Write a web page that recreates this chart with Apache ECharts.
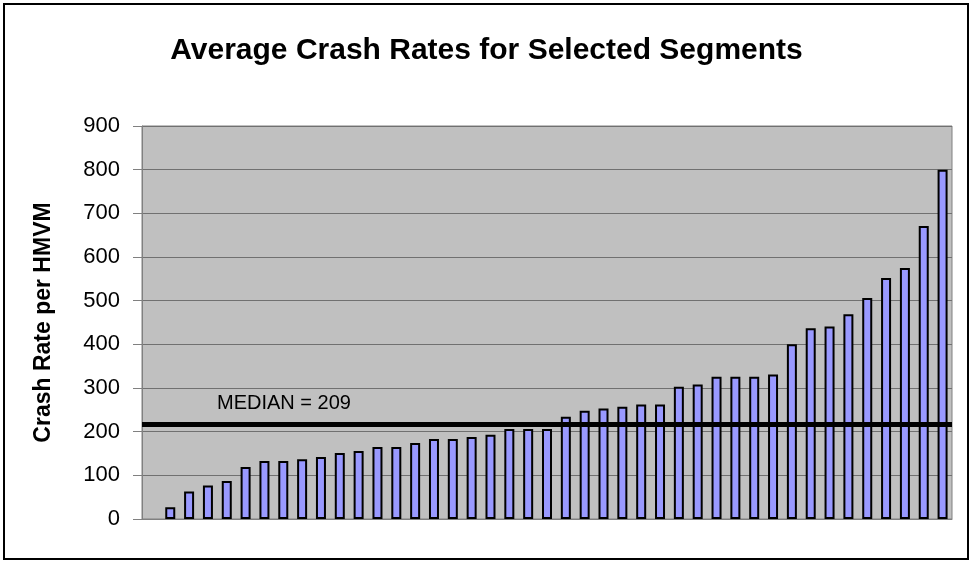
<!DOCTYPE html>
<html>
<head>
<meta charset="utf-8">
<title>Average Crash Rates for Selected Segments</title>
<script src="https://cdn.jsdelivr.net/npm/echarts@6/dist/echarts.min.js"></script>
<style>
  html, body { margin: 0; padding: 0; background: #fff; }
  #chart { width: 973px; height: 561px; }
</style>
</head>
<body>
<div id="chart"></div>
<script>
// first slot is empty in the original chart
var segments = ['']
for (var i = 1; i <= 42; i++) {
  segments.push('Segment ' + i)
}
var crashRates = ['-', 27, 63, 77, 87, 119, 133, 133, 137, 142, 151, 156, 165, 165, 174, 183, 183, 188, 193, 206, 206,
  206, 234, 248, 253, 257, 262, 262, 303, 308, 326, 326, 326, 331, 400, 437, 441, 469, 506, 552, 575, 671, 800]
var yTicks = [0, 100, 200, 300, 400, 500, 600, 700, 800, 900]
var medianLineAt = 217
var medianLabel = 209

var font = '"Liberation Sans", Arial, sans-serif'
var myChart = echarts.init(document.getElementById('chart'))

myChart.setOption({
  backgroundColor: '#ffffff',
  animation: false,
  title: {
    text: 'Average Crash Rates for Selected Segments',
    left: 'center',
    top: 36,
    padding: 0,
    textStyle: {
      fontFamily: font,
      fontSize: 30,
      fontWeight: 'bold',
      color: '#000'
    }
  },
  grid: {
    left: 142,
    right: 21,
    top: 126,
    bottom: 42,
    show: true,
    backgroundColor: '#c0c0c0',
    borderColor: '#808080',
    borderWidth: 1
  },
  xAxis: {
    type: 'category',
    data: segments,
    axisLabel: { show: false },
    axisTick: { show: false },
    axisLine: { lineStyle: { color: '#808080', width: 1 } }
  },
  yAxis: {
    type: 'value',
    min: yTicks[0],
    max: yTicks[yTicks.length - 1],
    interval: 100,
    name: 'Crash Rate per HMVM',
    nameLocation: 'middle',
    nameGap: 87,
    nameTextStyle: {
      fontFamily: font,
      fontSize: 23,
      fontWeight: 'bold',
      color: '#000'
    },
    axisLine: { show: true, lineStyle: { color: '#808080', width: 1 } },
    axisTick: { show: true, length: 9, lineStyle: { color: '#808080' } },
    axisLabel: {
      margin: 22,
      fontFamily: font,
      fontSize: 22,
      color: '#000'
    },
    splitLine: { lineStyle: { color: '#707070', width: 1 } }
  },
  series: [
    {
      name: 'Crash Rate',
      type: 'bar',
      data: crashRates,
      barWidth: 10,
      itemStyle: {
        color: '#9999ff',
        borderColor: '#000',
        borderWidth: 2
      },
      markLine: {
        silent: true,
        symbol: 'none',
        label: { show: false },
        lineStyle: { color: '#000', width: 5, type: 'solid' },
        data: [{ yAxis: medianLineAt }]
      }
    }
  ],
  graphic: [
    {
      type: 'text',
      left: 217,
      top: 393,
      style: {
        text: 'MEDIAN = ' + medianLabel,
        fontFamily: font,
        fontSize: 20,
        fill: '#000'
      }
    },
    {
      type: 'rect',
      shape: { x: 4, y: 4, width: 964, height: 555 },
      style: { fill: 'none', stroke: '#000', lineWidth: 2 }
    }
  ]
})
</script>
</body>
</html>
